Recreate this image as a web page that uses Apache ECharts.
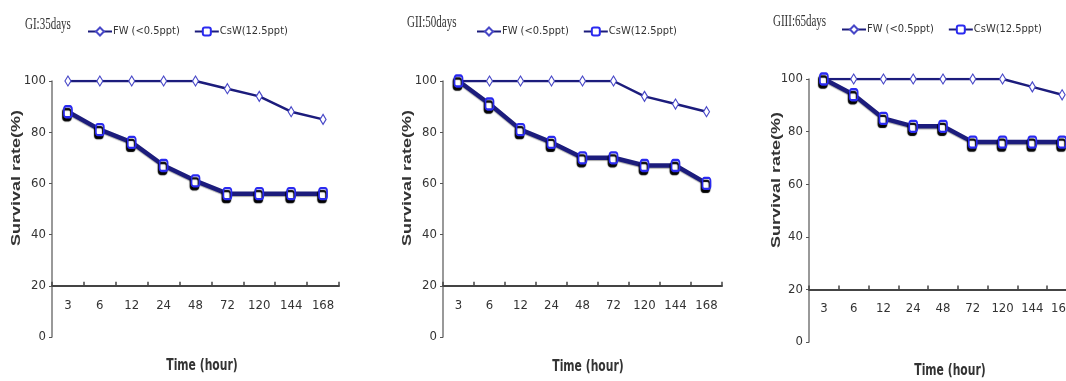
<!DOCTYPE html>
<html><head><meta charset="utf-8">
<script src="https://cdn.jsdelivr.net/npm/echarts@6/dist/echarts.min.js"></script>
<style>html,body{margin:0;padding:0;background:#fff;overflow:hidden;width:1066px;height:381px}#c{width:1090px;height:381px}</style>
</head><body><div id="c"></div>
<script>
const categories = ['3','6','12','24','48','72','120','144','168'];
const panelTitles = ['GI:35days','GII:50days','GIII:65days'];
const seriesNames = ['FW (<0.5ppt)','CsW(12.5ppt)'];
const fw35 = [100,100,100,100,100,97,94,88,85];
const csw35 = [88,81,76,67,61,56,56,56,56];
const fw50 = [100,100,100,100,100,100,94,91,88];
const csw50 = [100,91,81,76,70,70,67,67,60];
const fw65 = [100,100,100,100,100,100,100,97,94];
const csw65 = [100,94,85,82,82,76,76,76,76];
const yMin = 0, yMax = 100, yStep = 20, xCross = 20;
const yAxisName = 'Survival rate(%)';
const xAxisName = 'Time (hour)';

const fwData = [fw35, fw50, fw65];
const cswData = [csw35, csw50, csw65];

const grids = [
  {left: 52, width: 287, top: 81, height: 256},
  {left: 443, width: 279, top: 81, height: 256},
  {left: 809, width: 268, top: 79, height: 263}
];
const legendPos = [{left: 82, top: 21}, {left: 471, top: 21}, {left: 836, top: 19}];
const titlePos = [[25, 25], [407, 23], [773, 22]];
const yNamePos = [[17, 178], [408, 178], [777, 180]];
const xNamePos = [[202, 366], [588, 367], [950, 371]];

const narrow = '"DejaVu Sans Condensed", "Liberation Sans Narrow", sans-serif';
const axisColor = '#444';
const lineColor = '#1c1c7c';

const option = {
  animation: false,
  backgroundColor: '#fff',
  grid: grids.map(g => Object.assign({containLabel: false}, g)),
  legend: legendPos.map(p => ({
    left: p.left, top: p.top, width: 400, data: seriesNames, itemWidth: 24, itemHeight: 10, itemGap: 14,
    textStyle: {fontFamily: narrow, fontSize: 11, color: '#333', padding: [0,0,0,-4]},
    selectedMode: false
  })),
  xAxis: grids.map((g, i) => ({
    type: 'category', gridIndex: i, data: categories, boundaryGap: true,
    offset: -(g.height * (xCross - yMin) / (yMax - yMin)),
    axisLine: {show: true, onZero: false, lineStyle: {color: axisColor, width: 2}},
    axisTick: {show: true, inside: true, length: 4, lineStyle: {color: axisColor, width: 1.5}},
    axisLabel: {interval: 0, fontFamily: narrow, fontSize: 13, color: '#333', margin: 13},
    splitLine: {show: false}
  })),
  yAxis: grids.map((g, i) => ({
    type: 'value', gridIndex: i, min: yMin, max: yMax, interval: yStep,
    axisLine: {show: true, lineStyle: {color: '#777', width: 1.5}},
    axisTick: {show: true, length: 3, lineStyle: {color: '#555'}},
    axisLabel: {fontFamily: narrow, fontSize: 13, color: '#333', margin: 6},
    splitLine: {show: false}
  })),
  graphic: [],
  series: []
};

for (let i = 0; i < 3; i++) {
  option.series.push({
    name: seriesNames[0], type: 'line', xAxisIndex: i, yAxisIndex: i, data: fwData[i],
    symbol: 'diamond', symbolSize: [6, 10], showAllSymbol: true,
    lineStyle: {color: lineColor, width: 2.5},
    itemStyle: {color: '#fff', borderColor: '#4848c8', borderWidth: 1.2}
  });
  option.series.push({
    name: seriesNames[1], type: 'line', xAxisIndex: i, yAxisIndex: i, data: cswData[i],
    symbol: 'roundRect', symbolSize: [8, 11], showAllSymbol: true,
    lineStyle: {color: lineColor, width: 4.5, shadowColor: 'rgba(0,0,0,0.35)', shadowBlur: 1, shadowOffsetX: 0, shadowOffsetY: 1},
    itemStyle: {color: '#fff', borderColor: '#2a2af0', borderWidth: 2,
      shadowColor: '#000', shadowBlur: 1, shadowOffsetX: -1, shadowOffsetY: 3}
  });
  option.graphic.push({
    type: 'text', x: titlePos[i][0], y: titlePos[i][1], scaleY: 1.5,
    style: {text: panelTitles[i], font: '11px "Liberation Serif", serif', fill: '#333',
      textAlign: 'left', textVerticalAlign: 'middle'}
  });
  option.graphic.push({
    type: 'text', x: yNamePos[i][0], y: yNamePos[i][1], rotation: Math.PI / 2, scaleX: 1.5,
    style: {text: yAxisName, font: 'bold 12px "Liberation Sans", Arial, sans-serif', fill: '#333',
      textAlign: 'center', textVerticalAlign: 'middle'}
  });
  option.graphic.push({
    type: 'text', x: xNamePos[i][0], y: xNamePos[i][1], scaleY: 1.3,
    style: {text: xAxisName, font: 'bold 12px ' + narrow, fill: '#333',
      textAlign: 'center', textVerticalAlign: 'middle'}
  });
}

const chart = echarts.init(document.getElementById('c'));
chart.setOption(option);
</script></body></html>
